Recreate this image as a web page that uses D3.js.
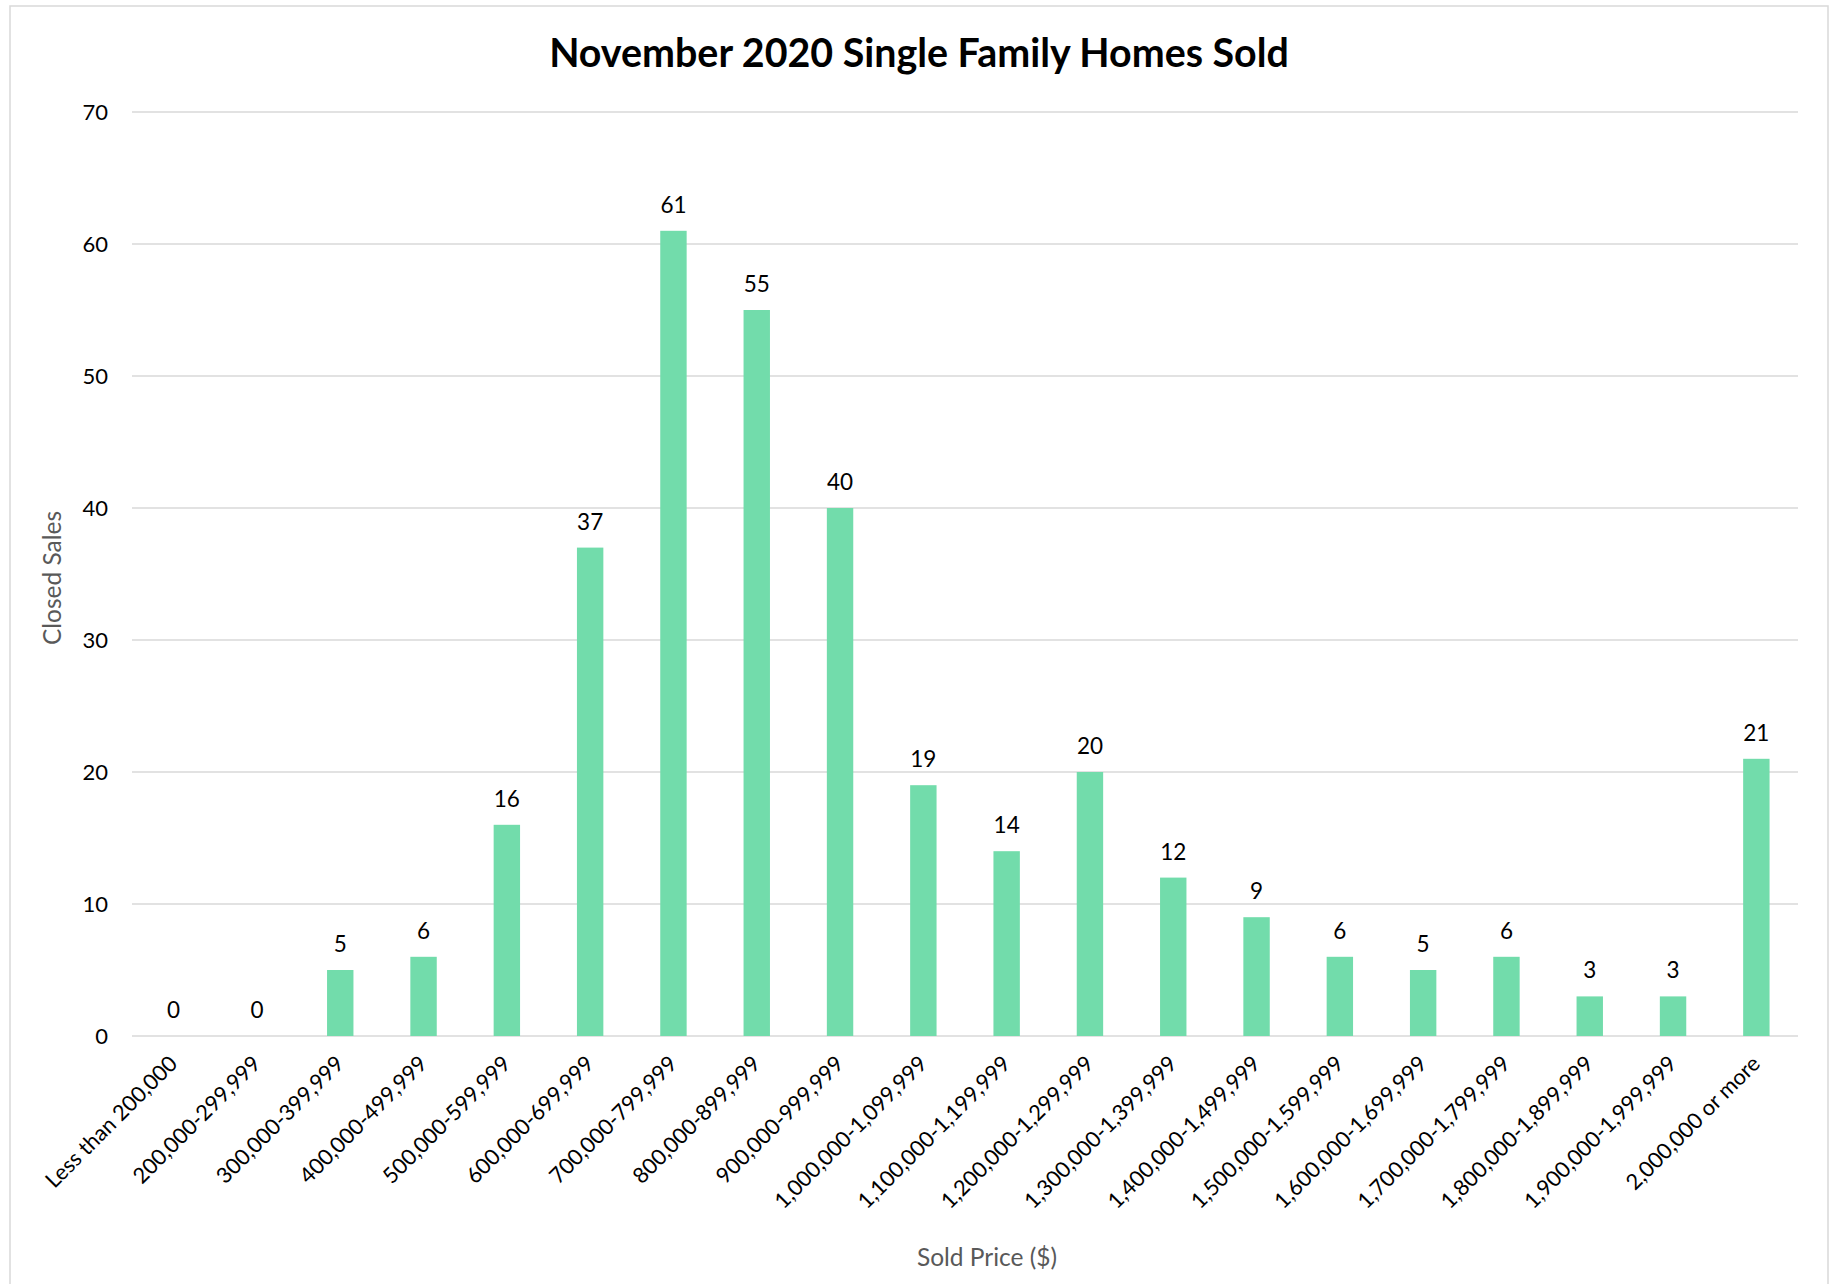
<!DOCTYPE html>
<html>
<head>
<meta charset="utf-8">
<script src="https://cdn.jsdelivr.net/npm/d3@7"></script>
<style>
  html, body { margin: 0; padding: 0; background: #fff; }
  svg { display: block; font-family: Lato, "Open Sans", sans-serif; }
</style>
</head>
<body>
<svg id="chart" width="1831" height="1284"></svg>
<script>
const categories = [
  "Less than 200,000", "200,000-299,999", "300,000-399,999", "400,000-499,999",
  "500,000-599,999", "600,000-699,999", "700,000-799,999", "800,000-899,999",
  "900,000-999,999", "1,000,000-1,099,999", "1,100,000-1,199,999", "1,200,000-1,299,999",
  "1,300,000-1,399,999", "1,400,000-1,499,999", "1,500,000-1,599,999", "1,600,000-1,699,999",
  "1,700,000-1,799,999", "1,800,000-1,899,999", "1,900,000-1,999,999", "2,000,000 or more"
];
const closedSales = [0, 0, 5, 6, 16, 37, 61, 55, 40, 19, 14, 20, 12, 9, 6, 5, 6, 3, 3, 21];
const yTicks = [0, 10, 20, 30, 40, 50, 60, 70];
const titleText = "November 2020 Single Family Homes Sold";
const xTitle = "Sold Price ($)";
const yTitle = "Closed Sales";

const svg = d3.select("#chart");
const plot = { left: 132, right: 1798, top: 112, bottom: 1036 };

// outer border
svg.append("rect")
  .attr("x", 10).attr("y", 6)
  .attr("width", 1818).attr("height", 1290)
  .attr("fill", "#fff").attr("stroke", "#d9d9d9").attr("stroke-width", 1.5);

const x = d3.scaleBand()
  .domain(categories)
  .range([plot.left, plot.right])
  .paddingInner(0.683)
  .paddingOuter(0.3415);

const y = d3.scaleLinear()
  .domain([0, 70])
  .range([plot.bottom, plot.top]);

// gridlines
svg.append("g")
  .selectAll("line")
  .data(yTicks)
  .join("line")
  .attr("x1", plot.left).attr("x2", plot.right)
  .attr("y1", d => y(d)).attr("y2", d => y(d))
  .attr("stroke", "#d9d9d9").attr("stroke-width", 1.5);

// y axis tick labels
const yAxis = d3.axisLeft(y).tickValues(yTicks).tickSize(0).tickPadding(0);
const yg = svg.append("g").attr("transform", `translate(108,0)`).call(yAxis);
yg.select(".domain").remove();
yg.selectAll("text")
  .attr("font-family", "Lato, sans-serif")
  .attr("font-size", 22)
  .attr("fill", "#000")
  .attr("dy", "0.35em");

// bars
svg.append("g")
  .selectAll("rect")
  .data(closedSales)
  .join("rect")
  .attr("x", (d, i) => x(categories[i]))
  .attr("width", x.bandwidth())
  .attr("y", d => y(d))
  .attr("height", d => y(0) - y(d))
  .attr("fill", "#72dcab");

// value labels
svg.append("g")
  .selectAll("text")
  .data(closedSales)
  .join("text")
  .attr("x", (d, i) => x(categories[i]) + x.bandwidth() / 2)
  .attr("y", d => y(d) - 18)
  .attr("text-anchor", "middle")
  .attr("font-size", 22.5)
  .attr("fill", "#000")
  .text(d => d);

// x axis labels (rotated)
const xAxis = d3.axisBottom(x).tickSize(0).tickPadding(0);
const xg = svg.append("g").attr("transform", `translate(0,${plot.bottom})`).call(xAxis);
xg.select(".domain").remove();
xg.selectAll("text")
  .attr("font-family", "Lato, sans-serif")
  .attr("font-size", 21.8)
  .attr("fill", "#000")
  .attr("text-anchor", "end")
  .attr("dy", null)
  .attr("y", null)
  .attr("transform", "translate(5,29) rotate(-45)");

// title
const title = svg.append("text")
  .attr("x", 919).attr("y", 67)
  .attr("text-anchor", "middle")
  .attr("font-weight", "bold")
  .attr("font-size", 35)
  .attr("fill", "#000")
  .text(titleText);
const tw = title.node().getComputedTextLength();
title.attr("font-size", 35 * 740 / tw);

// axis titles
svg.append("text")
  .attr("x", 987).attr("y", 1266)
  .attr("text-anchor", "middle")
  .attr("font-size", 24.5)
  .attr("fill", "#595959")
  .text(xTitle);

svg.append("text")
  .attr("transform", "translate(61,578) rotate(-90)")
  .attr("text-anchor", "middle")
  .attr("font-size", 24.5)
  .attr("fill", "#595959")
  .text(yTitle);
</script>
</body>
</html>
